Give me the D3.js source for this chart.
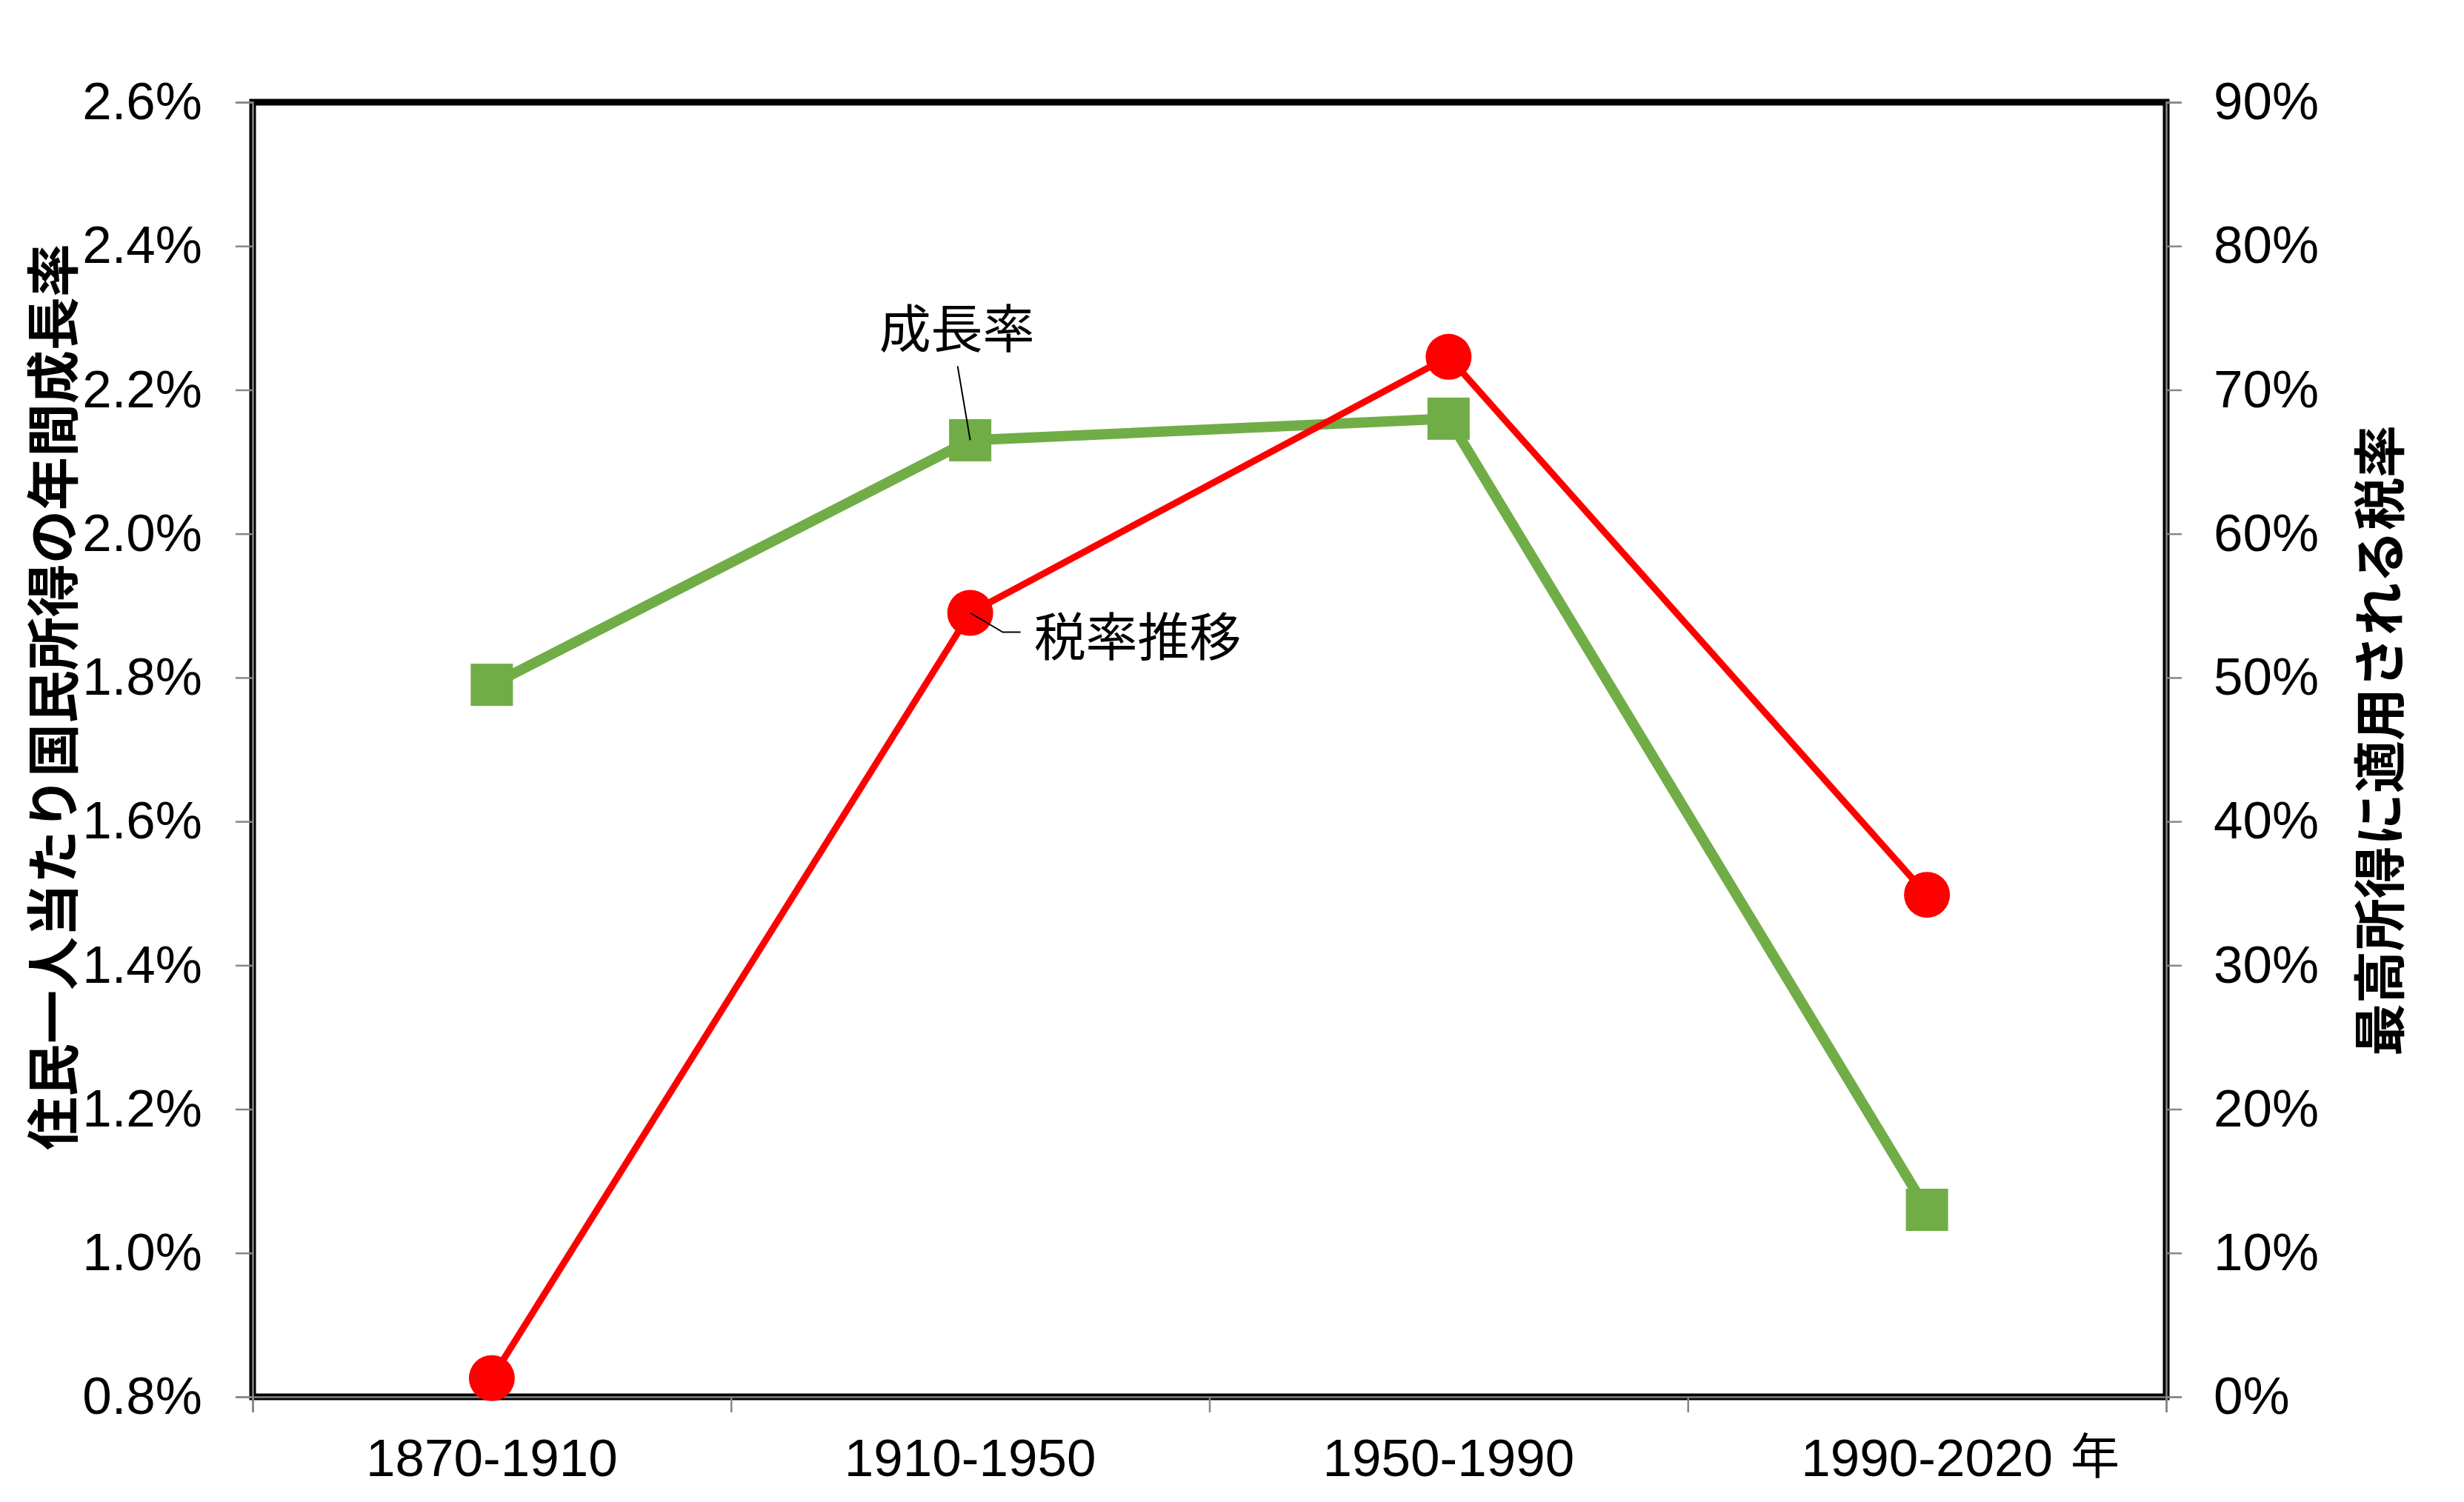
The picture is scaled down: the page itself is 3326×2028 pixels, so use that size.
<!DOCTYPE html>
<html>
<head>
<meta charset="utf-8">
<script src="https://cdn.jsdelivr.net/npm/d3@7"></script>
<style>
  body { margin: 0; background: #fff; }
  svg { display: block; }
</style>
</head>
<body>
<div id="chart"></div>
<script>
// chart data
const categories = ["1870-1910", "1910-1950", "1950-1990", "1990-2020"];
const growthRate = [1.79, 2.13, 2.16, 1.06];     // % (left axis)
const topTaxRate = [1.3, 54.5, 72.3, 34.9];      // % (right axis)
const leftTicks = [0.8, 1.0, 1.2, 1.4, 1.6, 1.8, 2.0, 2.2, 2.4, 2.6];
const rightTicks = [0, 10, 20, 30, 40, 50, 60, 70, 80, 90];
const leftTitle = "住民一人当たり国民所得の年間成長率";
const rightTitle = "最高所得に適用される税率";
const yearUnit = "年";
const growthLabel = "成長率";
const taxLabel = "税率推移";

const totalWidth = 3326, totalHeight = 2028;
const margin = { top: 138, right: 402, bottom: 142, left: 341 };
const width = totalWidth - margin.left - margin.right;
const height = totalHeight - margin.top - margin.bottom;

const numFont = "'Liberation Sans', Arial, sans-serif";
const cjkFont = "'Noto Sans CJK JP', 'Noto Sans', sans-serif";

const svg = d3.select("#chart")
    .append("svg")
    .attr("width", totalWidth)
    .attr("height", totalHeight);

const g = svg.append("g")
    .attr("transform", `translate(${margin.left}, ${margin.top})`);

// scales
const xBand = d3.scaleBand().domain(categories).range([0, width]);
const xEdge = d3.scaleLinear().domain([0, categories.length]).range([0, width]);
const yLeft = d3.scaleLinear().domain([0.8, 2.6]).range([height, 0]);
const yRight = d3.scaleLinear().domain([0, 90]).range([height, 0]);
const xc = d => xBand(d) + xBand.bandwidth() / 2;

// plot frame
g.append("rect")
    .attr("width", width)
    .attr("height", height)
    .attr("fill", "none")
    .attr("stroke", "#000")
    .attr("stroke-width", 9);

// axes
const leftAxis = g.append("g")
    .call(d3.axisLeft(yLeft).tickValues(leftTicks).tickSize(23).tickPadding(45)
        .tickFormat(d => d.toFixed(1) + "%"));

const rightAxis = g.append("g")
    .attr("transform", `translate(${width}, 0)`)
    .call(d3.axisRight(yRight).tickValues(rightTicks).tickSize(21).tickPadding(43)
        .tickFormat(d => d + "%"));

const xTickAxis = g.append("g")
    .attr("transform", `translate(0, ${height})`)
    .call(d3.axisBottom(xEdge).tickValues(d3.range(categories.length + 1)).tickSize(21).tickFormat(""));

const xLabelAxis = g.append("g")
    .attr("transform", `translate(0, ${height})`)
    .call(d3.axisBottom(xBand).tickSize(0).tickPadding(57));
xLabelAxis.select(".domain").remove();

[leftAxis, rightAxis, xTickAxis].forEach(ax => {
    ax.select(".domain").attr("stroke", "#868686").attr("stroke-width", 2.5);
    ax.selectAll(".tick line").attr("stroke", "#868686").attr("stroke-width", 2.5);
});

[leftAxis, rightAxis, xLabelAxis].forEach(ax => {
    ax.selectAll(".tick text")
        .style("font-family", numFont)
        .style("font-size", "71px")
        .attr("fill", "#000");
});

// "年" after the last category label
const lastLabel = xLabelAxis.selectAll(".tick text").filter(d => d === categories[categories.length - 1]);
const lastLen = lastLabel.node().getComputedTextLength();
g.append("text")
    .attr("x", xc(categories[categories.length - 1]) + lastLen / 2 + 24)
    .attr("y", height + 57)
    .attr("dy", "0.71em")
    .style("font-family", cjkFont)
    .style("font-size", "66px")
    .text(yearUnit);

// series lines
const greenLine = d3.line()
    .x((d, i) => xc(categories[i]))
    .y(d => yLeft(d));

const redLine = d3.line()
    .x((d, i) => xc(categories[i]))
    .y(d => yRight(d));

g.append("path")
    .datum(growthRate)
    .attr("fill", "none")
    .attr("stroke", "#70AD47")
    .attr("stroke-width", 14)
    .attr("d", greenLine);

g.append("path")
    .datum(topTaxRate)
    .attr("fill", "none")
    .attr("stroke", "#FF0000")
    .attr("stroke-width", 9)
    .attr("d", redLine);

// markers
const sq = 57;
g.selectAll(".sq")
    .data(growthRate)
    .enter()
    .append("rect")
    .attr("class", "sq")
    .attr("x", (d, i) => xc(categories[i]) - sq / 2)
    .attr("y", d => yLeft(d) - sq / 2)
    .attr("width", sq)
    .attr("height", sq)
    .attr("fill", "#70AD47");

g.selectAll(".dot")
    .data(topTaxRate)
    .enter()
    .append("circle")
    .attr("class", "dot")
    .attr("cx", (d, i) => xc(categories[i]))
    .attr("cy", d => yRight(d))
    .attr("r", 31)
    .attr("fill", "#FF0000");

// annotations
const gx = xc(categories[1]), gy = yLeft(growthRate[1]);
g.append("line")
    .attr("x1", gx - 17).attr("y1", gy - 100)
    .attr("x2", gx).attr("y2", gy)
    .attr("stroke", "#000").attr("stroke-width", 2);
g.append("text")
    .attr("x", gx - 18)
    .attr("y", gy - 155)
    .attr("text-anchor", "middle")
    .attr("dominant-baseline", "central")
    .style("font-family", cjkFont)
    .style("font-size", "70px")
    .text(growthLabel);

const rx = xc(categories[1]), ry = yRight(topTaxRate[1]);
g.append("polyline")
    .attr("points", `${rx},${ry} ${rx + 44},${ry + 26} ${rx + 68},${ry + 26}`)
    .attr("fill", "none")
    .attr("stroke", "#000").attr("stroke-width", 2);
g.append("text")
    .attr("x", rx + 86)
    .attr("y", ry + 28)
    .attr("dominant-baseline", "central")
    .style("font-family", cjkFont)
    .style("font-size", "70px")
    .text(taxLabel);

// axis titles
svg.append("text")
    .attr("transform", "translate(66, 941) rotate(-90)")
    .attr("text-anchor", "middle")
    .attr("dominant-baseline", "central")
    .style("font-family", cjkFont)
    .style("font-size", "72px")
    .style("font-weight", "bold")
    .text(leftTitle);

svg.append("text")
    .attr("transform", "translate(3207, 1000) rotate(-90)")
    .attr("text-anchor", "middle")
    .attr("dominant-baseline", "central")
    .style("font-family", cjkFont)
    .style("font-size", "71px")
    .style("font-weight", "bold")
    .text(rightTitle);
</script>
</body>
</html>
